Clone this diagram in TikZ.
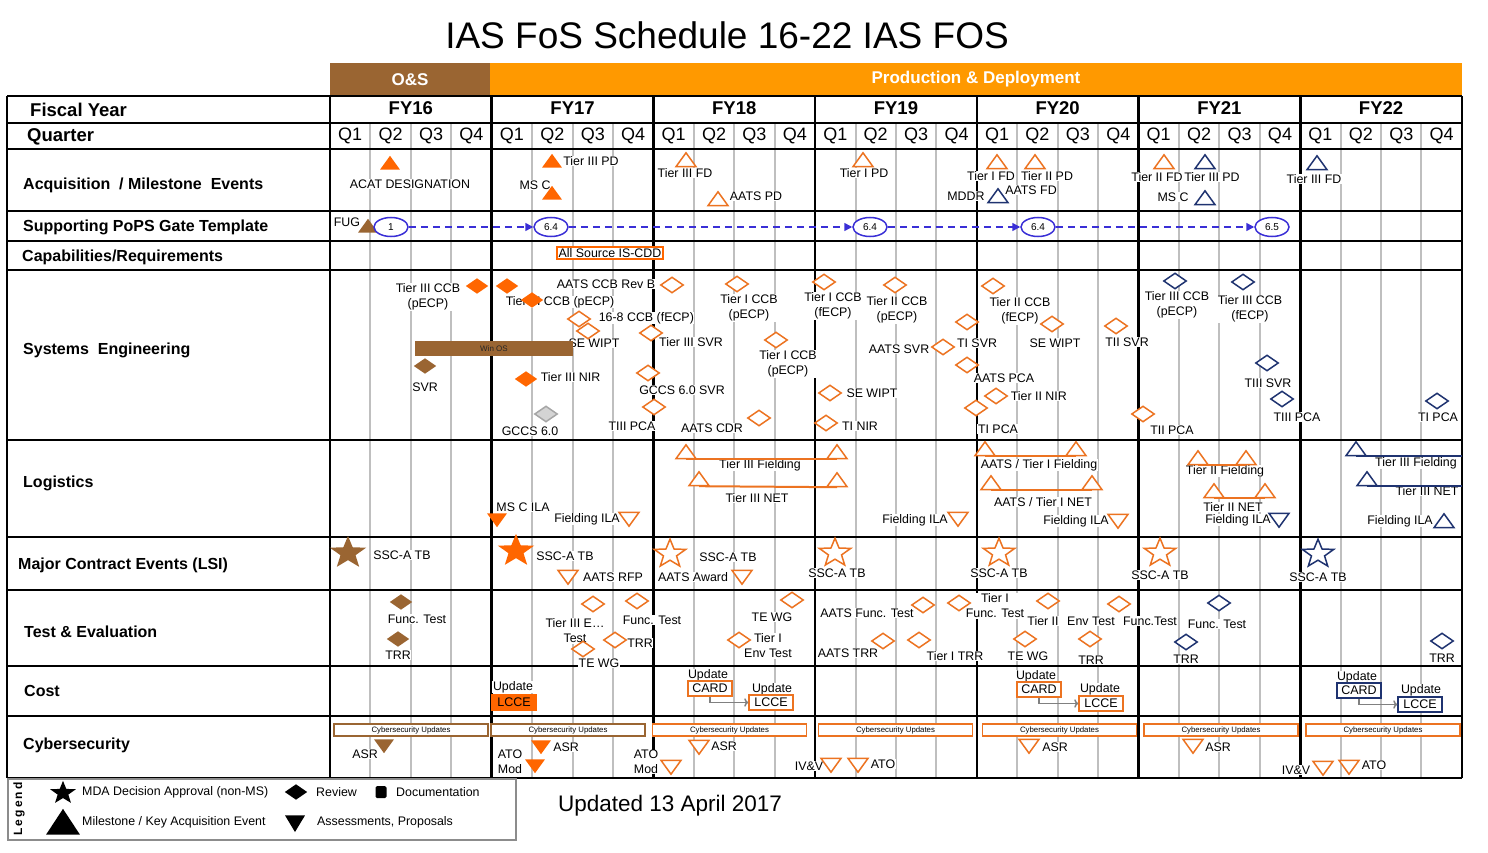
\documentclass[tikz,border=0pt]{standalone}
\usepackage{fontspec}
\setmainfont{Liberation Sans}
\usetikzlibrary{shapes.geometric,arrows.meta}

\definecolor{osbrown}{HTML}{9A6532}
\definecolor{pdorange}{HTML}{FF9900}
\definecolor{ofill}{HTML}{FF6600}
\definecolor{oline}{HTML}{EC7321}
\definecolor{navy}{HTML}{1F3370}
\definecolor{popsblue}{HTML}{3A2FD6}
\definecolor{gridgray}{HTML}{BFBFBF}

\tikzset{
  rowline/.style={black, line width=2pt},
  yearline/.style={black, line width=2.6pt},
  qline/.style={gridgray, line width=2pt},
  rowhead/.style={font=\fontsize{16}{18}\selectfont\bfseries, anchor=west, inner sep=0pt},
  fyhead/.style={font=\fontsize{18.5}{20}\selectfont\bfseries},
  qhead/.style={font=\fontsize{18}{20}\selectfont},
  lbl/.style={font=\fontsize{12.4}{15}\selectfont, fill=white, inner sep=0.6pt, align=center},
  lgtext/.style={font=\fontsize{12.4}{14}\selectfont, anchor=west, inner sep=0pt},
  tri/.style={regular polygon, regular polygon sides=3, minimum size=23pt, inner sep=0pt, yscale=0.8, line width=1.5pt},
  msf/.style={tri, fill=#1},
  mso/.style={tri, draw=#1, fill=white},
  asf/.style={tri, shape border rotate=180, fill=#1},
  aso/.style={tri, shape border rotate=180, draw=#1, fill=white},
  rev/.style={diamond, minimum width=23pt, minimum height=16pt, inner sep=0pt, line width=1.5pt},
  rvf/.style={rev, fill=#1},
  rvo/.style={rev, draw=#1, fill=white},
  mda/.style={star, star points=5, star point ratio=2.4, inner sep=0pt, line width=1.5pt, yscale=0.9},
  mdf/.style={mda, minimum size=38pt, fill=#1},
  mdo/.style={mda, minimum size=33pt, draw=#1, fill=white},
  gate/.style={ellipse, draw=popsblue, line width=1.5pt, fill=white, minimum width=34pt, minimum height=19pt, inner sep=0pt, font=\fontsize{10}{10}\selectfont},
  gatearrow/.style={popsblue, line width=1.5pt, dash pattern=on 7pt off 5pt, -{Triangle[length=8pt,width=8pt]}},
  docbox/.style={draw=#1, line width=1.5pt, fill=white, font=\fontsize{12.5}{13}\selectfont, inner sep=0.5pt, minimum width=44pt, minimum height=15pt},
  cyberbox/.style={draw=#1, line width=1.5pt, fill=white, font=\fontsize{7.8}{8}\selectfont, minimum width=154pt, minimum height=12pt, inner sep=0pt},
  costarrow/.style={gray, line width=1.5pt, -{To[length=4pt]}},
  fieldline/.style={draw=#1, line width=2pt},
}

\begin{document}
\begin{tikzpicture}[x=1pt,y=-1pt]
\useasboundingbox (0,0) rectangle (1488,853);

% title and phase bars
\node[font=\fontsize{37}{40}\selectfont] (title) at (727,35) {IAS FoS Schedule 16-22 IAS FOS};
\node[fill=osbrown, minimum width=160pt, minimum height=33pt, inner sep=0pt, text=white,
  font=\fontsize{17}{18}\selectfont\bfseries] (osbar) at (410,79.5) {O\&S};
\node[fill=pdorange, minimum width=972pt, minimum height=33pt, inner sep=0pt, text=white,
  font=\fontsize{17}{18}\selectfont\bfseries] (pdbar) at (976,79.5) {Production \& Deployment};

% grid
\foreach \k in {0,...,6}
  \foreach \q in {1,2,3}
    \draw[qline] ({330+\k*161.7+\q*40.425},123) -- ++(0,655);
\foreach \y in {96,123,149,211,241,270,440,537,590,666,716,778}
  \draw[rowline] (7,\y) -- (1462,\y);
\draw[rowline] (7,96) -- (7,778);
\foreach \k in {0,...,7}
  \draw[yearline] ({330+\k*161.7},96) -- ({330+\k*161.7},778);

% headers
\foreach \yr [count=\i from 0] in {16,...,22}
  \node[fyhead] (fy\yr) at ({330+\i*161.7+80.85},108) {FY\yr};
\foreach \k in {0,...,6}
  \foreach \q in {1,...,4}
    \node[qhead] (q\k\q) at ({330+\k*161.7+(\q-0.5)*40.425},136) {Q\q};

\node[rowhead, font=\fontsize{18.5}{20}\selectfont\bfseries] (hfy) at (30,110) {Fiscal Year};
\node[rowhead, font=\fontsize{18.5}{20}\selectfont\bfseries] (hq) at (27,137) {Quarter};
\node[rowhead] (hacq) at (23,185) {Acquisition \ / Milestone \ Events};
\node[rowhead] (hpops) at (23,227) {Supporting PoPS Gate Template};
\node[rowhead] (hcap) at (22,257) {Capabilities/Requirements};
\node[rowhead] (hse) at (23,350) {Systems \ Engineering};
\node[rowhead] (hlog) at (23,483) {Logistics};
\node[rowhead] (hlsi) at (18,565) {Major Contract Events (LSI)};
\node[rowhead] (hte) at (24,632) {Test \& Evaluation};
\node[rowhead] (hcost) at (24,691) {Cost};
\node[rowhead] (hcyb) at (23,745) {Cybersecurity};

% acquisition / milestone events
\node[lbl] (acqt1) at (410,184) {ACAT DESIGNATION};
\node[lbl] (acqt2) at (591,161) {Tier III PD};
\node[lbl] (acqt3) at (535,185) {MS C};
\node[lbl] (acqt4) at (685,173) {Tier III FD};
\node[lbl] (acqt5) at (756,196) {AATS PD};
\node[lbl] (acqt6) at (864,173) {Tier I PD};
\node[lbl] (acqt7) at (991,176) {Tier I FD};
\node[lbl] (acqt8) at (1047,176) {Tier II PD};
\node[lbl] (acqt9) at (966,196) {MDDR};
\node[lbl] (acqt10) at (1031,190) {AATS FD};
\node[lbl] (acqt11) at (1157,177) {Tier II FD};
\node[lbl] (acqt12) at (1212,177) {Tier III PD};
\node[lbl] (acqt13) at (1173,197) {MS C};
\node[lbl] (acqt14) at (1314,179) {Tier III FD};
\node[msf=ofill] (acq1) at (390,165) {};
\node[msf=ofill] (acq2) at (552,163) {};
\node[msf=ofill] (acq3) at (552,195) {};
\node[mso=oline] (acq4) at (686,162) {};
\node[mso=oline] (acq5) at (718,201) {};
\node[mso=oline] (acq6) at (863,162) {};
\node[mso=oline] (acq7) at (997,164) {};
\node[mso=oline] (acq8) at (1035,164) {};
\node[mso=navy] (acq9) at (998,198) {};
\node[mso=oline] (acq10) at (1164,164) {};
\node[mso=navy] (acq11) at (1205,164) {};
\node[mso=navy] (acq12) at (1205,200) {};
\node[mso=navy] (acq13) at (1317,165) {};

% PoPS gates
\node[lbl] (fugt) at (347,222) {FUG};
\node[msf=osbrown] (fug) at (368,228) {};
\node[gate] (g1) at (391,227) {1};
\node[gate] (g2) at (551,227) {6.4};
\node[gate] (g3) at (870,227) {6.4};
\node[gate] (g4) at (1038,227) {6.4};
\node[gate] (g5) at (1272,227) {6.5};
\draw[gatearrow] (g1) -- (g2);
\draw[gatearrow] (g2) -- (g3);
\draw[gatearrow] (g3) -- (g4);
\draw[gatearrow] (g4) -- (g5);

% capabilities
\node[lbl, draw=ofill, line width=1.5pt, inner sep=1.5pt] (cdd) at (610,253) {All Source IS-CDD};

% systems engineering
\node[lbl] (set1) at (428,297) {Tier III CCB\\(pECP)};
\node[lbl] (set3) at (560,302) {Tier III CCB (pECP)};
\node[lbl] (set4) at (606,284) {AATS CCB Rev B};
\node[lbl, anchor=west] (set5) at (598,318) {16-8 CCB (fECP)};
\node[lbl] (set6) at (594,343) {SE WIPT};
\node[lbl] (set7) at (425,387) {SVR};
\node[lbl, anchor=west] (set8) at (540,377) {Tier III NIR};
\node[lbl] (set9) at (530,431) {GCCS 6.0};
\node[lbl] (set10) at (691,342) {Tier III SVR};
\node[lbl] (set11) at (682,390) {GCCS 6.0 SVR};
\node[lbl] (set12) at (632,426) {TIII PCA};
\node[lbl] (set13) at (749,308) {Tier I CCB\\(pECP)};
\node[lbl] (set14) at (788,364) {Tier I CCB\\(pECP)};
\node[lbl] (set15) at (712,428) {AATS CDR};
\node[lbl] (set16) at (833,306) {Tier I CCB\\(fECP)};
\node[lbl] (set17) at (897,310) {Tier II CCB\\(pECP)};
\node[lbl] (set18) at (899,349) {AATS SVR};
\node[lbl] (set19) at (977,343) {TI SVR};
\node[lbl] (set20) at (1004,378) {AATS PCA};
\node[lbl] (set21) at (998,429) {TI PCA};
\node[lbl] (set22) at (872,393) {SE WIPT};
\node[lbl] (set23) at (860,426) {TI NIR};
\node[lbl] (set24) at (1020,311) {Tier II CCB\\(fECP)};
\node[lbl] (set25) at (1055,343) {SE WIPT};
\node[lbl] (set26) at (1127,342) {TII SVR};
\node[lbl, anchor=west] (set27) at (1010,396) {Tier II NIR};
\node[lbl] (set28) at (1172,430) {TII PCA};
\node[lbl] (set29) at (1177,305) {Tier III CCB\\(pECP)};
\node[lbl] (set30) at (1250,309) {Tier III CCB\\(fECP)};
\node[lbl] (set31) at (1268,383) {TIII SVR};
\node[lbl] (set32) at (1297,417) {TIII PCA};
\node[lbl] (set33) at (1438,417) {TI PCA};
\node[fill=osbrown, minimum width=158pt, minimum height=15pt, inner sep=0pt,
  font=\fontsize{8}{8}\selectfont, text=black!85] (winos) at (494,348.5) {Win OS};
\node[rvf=ofill] (se1) at (477,286) {};
\node[rvf=ofill] (se2) at (507,286) {};
\node[rvf=ofill] (se3) at (532,300) {};
\node[rvo=oline] (se4) at (672,285) {};
\node[rvo=oline] (se5a) at (579,319) {};
\node[rvo=oline] (se5b) at (588,331) {};
\node[rvf=osbrown] (se7) at (425,366) {};
\node[rvf=ofill] (se8) at (526,379) {};
\node[rev, fill=black!17, draw=black!35] (se9) at (546,414) {};
\node[rvo=oline] (se10) at (651,333) {};
\node[rvo=oline] (se11) at (648,373) {};
\node[rvo=oline] (se12) at (654,407) {};
\node[rvo=oline] (se13) at (737,284) {};
\node[rvo=oline] (se14) at (776,340) {};
\node[rvo=oline] (se15) at (759,418) {};
\node[rvo=oline] (se16) at (824,282) {};
\node[rvo=oline] (se17) at (895,285) {};
\node[rvo=oline] (se18) at (943,347) {};
\node[rvo=oline] (se19) at (967,322) {};
\node[rvo=oline] (se20) at (967,365) {};
\node[rvo=oline] (se21) at (976,408) {};
\node[rvo=oline] (se22) at (830,393) {};
\node[rvo=oline] (se23) at (826,423) {};
\node[rvo=oline] (se24) at (993,286) {};
\node[rvo=oline] (se25) at (1052,324) {};
\node[rvo=oline] (se26) at (1116,326) {};
\node[rvo=oline] (se27) at (996,396) {};
\node[rvo=oline] (se28) at (1143,414) {};
\node[rvo=navy] (se29) at (1175,281) {};
\node[rvo=navy] (se30) at (1243,282) {};
\node[rvo=navy] (se31) at (1267,363) {};
\node[rvo=navy] (se32) at (1282,399) {};
\node[rvo=navy] (se33) at (1437,401) {};

% logistics
\node[lbl] (lgt1) at (760,465) {Tier III Fielding};
\node[lbl] (lgt2) at (757,498) {Tier III NET};
\node[lbl] (lgt3) at (523,507) {MS C ILA};
\node[lbl] (lgt4) at (587,519) {Fielding ILA};
\node[lbl] (lgt5) at (915,520) {Fielding ILA};
\node[lbl] (lgt6) at (1039,465) {AATS / Tier I Fielding};
\node[lbl] (lgt7) at (1043,502) {AATS / Tier I NET};
\node[lbl] (lgt8) at (1076,521) {Fielding ILA};
\node[lbl] (lgt9) at (1225,471) {Tier II Fielding};
\node[lbl] (lgt10) at (1233,507) {Tier II NET};
\node[lbl] (lgt11) at (1238,520) {Fielding ILA};
\node[lbl] (lgt12) at (1416,463) {Tier III Fielding};
\node[lbl] (lgt13) at (1427,491) {Tier III NET};
\node[lbl] (lgt14) at (1400,521) {Fielding ILA};
\node[mso=oline] (lg1) at (686,454) {};
\node[mso=oline] (lg2) at (837,454) {};
\node[mso=oline] (lg3) at (699,481) {};
\node[mso=oline] (lg4) at (837,482) {};
\node[asf=ofill] (lg5) at (497,518) {};
\node[aso=oline] (lg6) at (629,517) {};
\node[aso=oline] (lg7) at (958,517) {};
\node[mso=oline] (lg8) at (985,451) {};
\node[mso=oline] (lg9) at (1076,451) {};
\node[mso=oline] (lg10) at (991,485) {};
\node[mso=oline] (lg11) at (1092,485) {};
\node[aso=oline] (lg12) at (1118,519) {};
\node[mso=oline] (lg13) at (1198,460) {};
\node[mso=oline] (lg14) at (1246,460) {};
\node[mso=oline] (lg15) at (1214,493) {};
\node[mso=oline] (lg16) at (1265,493) {};
\node[aso=navy] (lg17) at (1279,518) {};
\node[mso=navy] (lg18) at (1356,451) {};
\node[mso=navy] (lg19) at (1367,481) {};
\node[mso=navy] (lg20) at (1444,523) {};
\coordinate (rimend) at (1462,0);
\draw[fieldline=oline] (lg1.south) -- (lg2.south);
\draw[fieldline=oline] (lg3.south) -- (lg4.south);
\draw[fieldline=oline] (lg8.south) -- (lg9.south);
\draw[fieldline=oline] (lg10.south) -- (lg11.south);
\draw[fieldline=oline] (lg13.south) -- (lg14.south);
\draw[fieldline=oline] (lg15.south) -- (lg16.south);
\draw[fieldline=navy] (lg18.south) -- (lg18.south -| rimend);
\draw[fieldline=navy] (lg19.south) -- (lg19.south -| rimend);

% major contract events
\node[lbl] (lst1) at (402,555) {SSC-A TB};
\node[lbl] (lst2) at (565,556) {SSC-A TB};
\node[lbl] (lst3) at (613,577) {AATS RFP};
\node[lbl] (lst4) at (728,557) {SSC-A TB};
\node[lbl] (lst5) at (693,577) {AATS Award};
\node[lbl] (lst6) at (837,573) {SSC-A TB};
\node[lbl] (lst7) at (999,573) {SSC-A TB};
\node[lbl] (lst8) at (1160,575) {SSC-A TB};
\node[lbl] (lst9) at (1318,577) {SSC-A TB};
\node[mdf=osbrown] (ls1) at (348,553) {};
\node[mdf=ofill] (ls2) at (516,551) {};
\node[aso=oline] (ls3) at (568,575) {};
\node[mdo=oline] (ls4) at (670,554) {};
\node[aso=oline] (ls5) at (742,575) {};
\node[mdo=oline] (ls6) at (835,553) {};
\node[mdo=oline] (ls7) at (999,553) {};
\node[mdo=oline] (ls8) at (1160,553) {};
\node[mdo=navy] (ls9) at (1318,554) {};

% test and evaluation
\node[lbl] (tet1) at (417,619) {Func. Test};
\node[lbl] (tet2) at (398,655) {TRR};
\node[lbl] (tet3) at (575,631) {Tier III E\ldots\\Test};
\node[lbl] (tet4) at (599,663) {TE WG};
\node[lbl] (tet5) at (652,620) {Func. Test};
\node[lbl] (tet6) at (640,643) {TRR};
\node[lbl] (tet7) at (772,617) {TE WG};
\node[lbl] (tet8) at (768,646) {Tier I\\Env Test};
\node[lbl] (tet9) at (867,613) {AATS Func. Test};
\node[lbl] (tet10) at (995,606) {Tier I\\Func. Test};
\node[lbl] (tet11) at (1043,621) {Tier II};
\node[lbl] (tet12) at (1091,621) {Env Test};
\node[lbl] (tet13) at (1150,621) {Func.Test};
\node[lbl] (tet14) at (1217,624) {Func. Test};
\node[lbl] (tet15) at (848,653) {AATS TRR};
\node[lbl] (tet16) at (955,656) {Tier I TRR};
\node[lbl] (tet17) at (1028,656) {TE WG};
\node[lbl] (tet18) at (1091,660) {TRR};
\node[lbl] (tet19) at (1186,659) {TRR};
\node[lbl] (tet20) at (1442,658) {TRR};
\node[rvf=osbrown] (te1) at (401,602) {};
\node[rvf=osbrown] (te2) at (398,639) {};
\node[rvo=oline] (te3) at (593,604) {};
\node[rvo=oline] (te4) at (583,649) {};
\node[rvo=oline] (te5) at (637,601) {};
\node[rvo=oline] (te6) at (615,640) {};
\node[rvo=oline] (te7) at (792,600) {};
\node[rvo=oline] (te8) at (739,640) {};
\node[rvo=oline] (te9) at (923,605) {};
\node[rvo=oline] (te10) at (959,603) {};
\node[rvo=oline] (te11) at (1048,601) {};
\node[rvo=oline] (te12) at (1119,604) {};
\node[rvo=navy] (te13) at (1219,603) {};
\node[rvo=oline] (te14) at (883,641) {};
\node[rvo=oline] (te15) at (919,640) {};
\node[rvo=oline] (te16) at (1025,639) {};
\node[rvo=oline] (te17) at (1090,639) {};
\node[rvo=navy] (te18) at (1186,642) {};
\node[rvo=navy] (te19) at (1442,641) {};

% cost
\node[lbl] (cot1) at (513,687) {Update};
\node[lbl] (cot2) at (708,675) {Update};
\node[lbl] (cot3) at (772,689) {Update};
\node[lbl] (cot4) at (1036,676) {Update};
\node[lbl] (cot5) at (1100,689) {Update};
\node[lbl] (cot6) at (1357,677) {Update};
\node[lbl] (cot7) at (1421,690) {Update};
\node[docbox=ofill, fill=ofill] (co1) at (514,702.5) {LCCE};
\node[docbox=oline] (co2) at (710,688.5) {CARD};
\node[docbox=oline] (co3) at (771,702.5) {LCCE};
\node[docbox=oline] (co4) at (1039,689.5) {CARD};
\node[docbox=oline] (co5) at (1101,703.5) {LCCE};
\node[docbox=navy] (co6) at (1359,690.5) {CARD};
\node[docbox=navy] (co7) at (1420,704.5) {LCCE};
\draw[costarrow] (co2.south) |- (co3.west);
\draw[costarrow] (co4.south) |- (co5.west);
\draw[costarrow] (co6.south) |- (co7.west);

% cybersecurity
\foreach \cx/\cc [count=\i] in {411/osbrown,568/osbrown,729.5/oline,895.5/oline,1059.5/oline,1221/oline,1383/oline}
  \node[cyberbox=\cc] (cyb\i) at (\cx,730) {Cybersecurity Updates};
\node[lbl] (cyt1) at (365,754) {ASR};
\node[lbl] (cyt2) at (566,747) {ASR};
\node[lbl] (cyt3) at (510,762) {ATO\\Mod};
\node[lbl] (cyt4) at (724,746) {ASR};
\node[lbl] (cyt5) at (646,762) {ATO\\Mod};
\node[lbl] (cyt6) at (809,766) {IV\&V};
\node[lbl] (cyt7) at (883,764) {ATO};
\node[lbl] (cyt8) at (1055,747) {ASR};
\node[lbl] (cyt9) at (1218,747) {ASR};
\node[lbl] (cyt10) at (1296,770) {IV\&V};
\node[lbl] (cyt11) at (1374,765) {ATO};
\node[asf=osbrown] (cy1) at (384,744) {};
\node[asf=ofill] (cy2) at (541,745) {};
\node[asf=ofill] (cy3) at (535,764) {};
\node[aso=oline] (cy4) at (699,745) {};
\node[aso=oline] (cy5) at (671,765) {};
\node[aso=oline] (cy6) at (831,763) {};
\node[aso=oline] (cy7) at (858,763) {};
\node[aso=oline] (cy8) at (1029,744) {};
\node[aso=oline] (cy9) at (1193,744) {};
\node[aso=oline] (cy10) at (1323,766) {};
\node[aso=oline] (cy11) at (1349,765) {};

% legend
\node[draw=black!45, line width=1.5pt, minimum width=508pt, minimum height=61pt, inner sep=0pt] (legbox) at (262,809.5) {};
\node[font=\fontsize{12}{12}\selectfont\bfseries\addfontfeature{LetterSpace=18}, rotate=90] (legt) at (19,809) {Legend};
\node[mda, minimum size=27pt, fill=black] (lgmda) at (63,793) {};
\node[lgtext] (lgmdat) at (82,792) {MDA Decision Approval (non-MS)};
\node[rev, fill=black] (lgrev) at (296,792) {};
\node[lgtext] (lgrevt) at (316,792) {Review};
\node[fill=black, rounded corners=1.5pt, minimum width=11pt, minimum height=12pt, inner sep=0pt] (lgdoc) at (381,792) {};
\node[lgtext] (lgdoct) at (396,792) {Documentation};
\node[tri, minimum size=39pt, yscale=1.1, fill=black] (lgms) at (63,826) {};
\node[lgtext] (lgmst) at (82,822) {Milestone / Key Acquisition Event};
\node[tri, shape border rotate=180, yscale=1.2, fill=black] (lgas) at (295,821) {};
\node[lgtext] (lgast) at (317,822) {Assessments, Proposals};

\node[font=\fontsize{22.5}{24}\selectfont] (updated) at (670,806) {Updated 13 April 2017};
\end{tikzpicture}
\end{document}
